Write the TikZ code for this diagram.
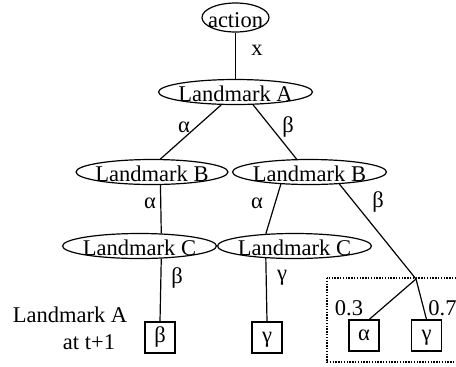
\documentclass[tikz,border=0pt]{standalone}
\usepackage{fontspec}
\setmainfont{Liberation Serif}
\usetikzlibrary{shapes.geometric}
\newcommand{\zt}[1]{\makebox[0pt]{\raisebox{-1pt}{#1}}}
\begin{document}
\begin{tikzpicture}[x=0.5pt,y=-0.5pt,
  every node/.style={font=\fontsize{11.25}{13.5}\selectfont},
  ell/.style={ellipse, draw, line width=0.6pt, inner sep=0pt, minimum width=77pt, minimum height=12.5pt, text height=7.65pt, text depth=0pt},
  box/.style={draw, line width=0.6pt, inner sep=0pt, minimum width=15pt, minimum height=15.5pt, text height=7pt, text depth=2pt},
  edge/.style={line width=0.6pt},
  lbl/.style={inner sep=0pt},
  frame/.style={line width=0.6pt, dash pattern=on 0.7pt off 0.7pt}]
\useasboundingbox (0,0) rectangle (456,366);
% tree nodes
\node[ell, minimum width=33.5pt, minimum height=14.5pt] (act) at (235.5,17.5) {\zt{action}};
\node[ell] (A) at (235.5,92) {\zt{Landmark A}};
\node[ell, minimum width=76pt] (Bl) at (152,172) {\zt{Landmark B}};
\node[ell] (Br) at (309.5,172) {\zt{Landmark B}};
\node[ell] (Cl) at (139.5,246) {\zt{Landmark C}};
\node[ell] (Cr) at (294.5,246) {\zt{Landmark C}};
\node[box] (b1) at (160,337.5) {β};
\node[box] (b2) at (267,337.5) {γ};
\node[box] (b3) at (364,335.5) {α};
\node[box] (b4) at (426.5,335.5) {γ};
\coordinate (j) at (416,279);
% connectors
\draw[edge] (act.south) -- (A.north);
\draw[edge] (A.222) -- (Bl.57);
\draw[edge] (A.-36.5) -- (Br.135.4);
\draw[edge] (Bl.-57) -- (Cl.30.5);
\draw[edge] (Cl.-30.5) -- (b1.north);
\draw[edge] (Br.203) -- (Cr.157);
\draw[edge] (Cr.203) -- (b2.north);
\draw[edge] (Br.-22.2) -- (j);
\draw[edge] (j) -- (b3.72);
\draw[edge] (j) -- (b4.north);
% dotted frame
\draw[frame] (327,278) rectangle (470,362);
% labels
\node[lbl] (lx) at (257,50) {x};
\node[lbl] (l1) at (184,127) {α};
\node[lbl] (l2) at (288,127) {β};
\node[lbl] (l3) at (150,203) {α};
\node[lbl] (l4) at (257,203) {α};
\node[lbl] (l5) at (378,202) {β};
\node[lbl] (l6) at (177,278) {β};
\node[lbl] (l7) at (282,278) {γ};
\node[lbl] (p1) at (349,308) {0.3};
\node[lbl, anchor=west] (p2) at (428,308) {0.7};
\node[lbl] (t1) at (70,315) {Landmark A};
\node[lbl] (t2) at (89,342) {at t+1};
\end{tikzpicture}
\end{document}
